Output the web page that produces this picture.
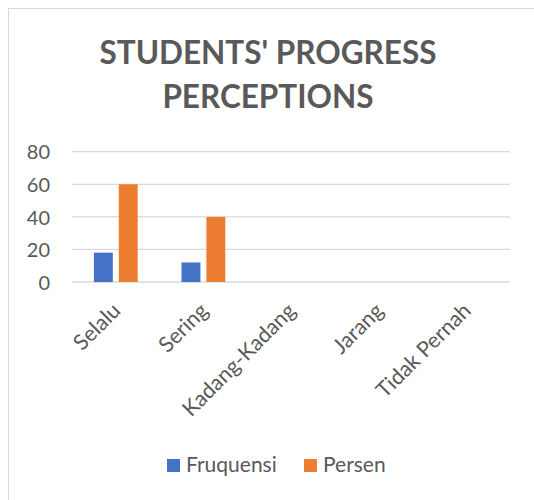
<!DOCTYPE html>
<html>
<head>
<meta charset="utf-8">
<script src="https://cdn.jsdelivr.net/npm/d3@7"></script>
<style>
  body { margin: 0; background: #fff; }
  text { font-family: Lato, "Open Sans", sans-serif; fill: #595959; }
</style>
</head>
<body>
<div id="chart"></div>
<script>
/* data */
var categories = ["Selalu", "Sering", "Kadang-Kadang", "Jarang", "Tidak Pernah"];
var seriesNames = ["Fruquensi", "Persen"];
var fruquensi = [18, 12, 0, 0, 0];
var persen = [60, 40, 0, 0, 0];
var yTicks = [0, 20, 40, 60, 80];
var titleLines = ["STUDENTS' PROGRESS", "PERCEPTIONS"];

var colors = { Fruquensi: "#4472C4", Persen: "#ED7D31" };

var width = 534,
  height = 500;
var plot = { left: 72, right: 510, top: 151.7, bottom: 282 };

var svg = d3
  .select("#chart")
  .append("svg")
  .attr("width", width)
  .attr("height", height);

/* chart frame */
svg
  .append("rect")
  .attr("x", 8.5)
  .attr("y", 8.5)
  .attr("width", 560)
  .attr("height", 560)
  .style("fill", "none")
  .style("stroke", "#d9d9d9");

/* Title */
svg
  .append("g")
  .selectAll("text")
  .data(titleLines)
  .enter()
  .append("text")
  .attr("x", 268)
  .attr("y", (d, i) => 63.5 + i * 44.5)
  .attr("text-anchor", "middle")
  .style("font-size", "31.5px")
  .style("font-weight", "bold")
  .text(d => d);

/* Scale */
var x0 = d3
  .scaleBand()
  .domain(categories)
  .range([plot.left, plot.right]);

var x1 = d3
  .scaleBand()
  .domain(seriesNames)
  .range([x0.bandwidth() * 0.25, x0.bandwidth() * 0.75])
  .paddingInner(0.24);

var y = d3
  .scaleLinear()
  .domain([0, 80])
  .range([plot.bottom, plot.top]);

/* gridlines */
svg
  .append("g")
  .attr("class", "grid")
  .selectAll("line")
  .data(yTicks)
  .enter()
  .append("line")
  .attr("x1", plot.left)
  .attr("x2", plot.right)
  .attr("y1", d => y(d))
  .attr("y2", d => y(d))
  .style("stroke", "#d9d9d9")
  .style("stroke-width", 1.3);

/* y axis labels */
var yAxis = d3
  .axisLeft(y)
  .tickValues(yTicks)
  .tickSize(0)
  .tickPadding(0);

var yg = svg
  .append("g")
  .attr("transform", "translate(50,0)")
  .call(yAxis);
yg.select(".domain").remove();
yg.selectAll("text")
  .attr("dy", "0.36em")
  .style("font-size", "20px")
  .style("font-family", "Lato, sans-serif")
  .attr("fill", "#595959");

/* bars */
var rows = categories.map((c, i) => ({
  category: c,
  values: [
    { name: "Fruquensi", value: fruquensi[i] },
    { name: "Persen", value: persen[i] }
  ]
}));

svg
  .append("g")
  .attr("class", "bars")
  .selectAll("g")
  .data(rows)
  .enter()
  .append("g")
  .attr("transform", d => `translate(${x0(d.category)},0)`)
  .selectAll("rect")
  .data(d => d.values)
  .enter()
  .append("rect")
  .attr("x", d => x1(d.name))
  .attr("width", x1.bandwidth())
  .attr("y", d => y(d.value))
  .attr("height", d => y(0) - y(d.value))
  .style("fill", d => colors[d.name]);

/* x axis labels */
svg
  .append("g")
  .attr("class", "x-labels")
  .selectAll("text")
  .data(categories)
  .enter()
  .append("text")
  .attr(
    "transform",
    d => `translate(${x0(d) + x0.bandwidth() / 2 + 6}, 312) rotate(-45)`
  )
  .attr("text-anchor", "end")
  .style("font-size", "21.5px")
  .text(d => d);

/* legend */
var legend = svg
  .append("g")
  .attr("class", "legend")
  .selectAll("g")
  .data(seriesNames)
  .enter()
  .append("g")
  .attr("transform", (d, i) => `translate(${[167, 304][i]}, 459)`);

legend
  .append("rect")
  .attr("width", 13)
  .attr("height", 13)
  .style("fill", d => colors[d]);

legend
  .append("text")
  .attr("x", 19)
  .attr("y", 13)
  .style("font-size", "21px")
  .text(d => d);
</script>
</body>
</html>
